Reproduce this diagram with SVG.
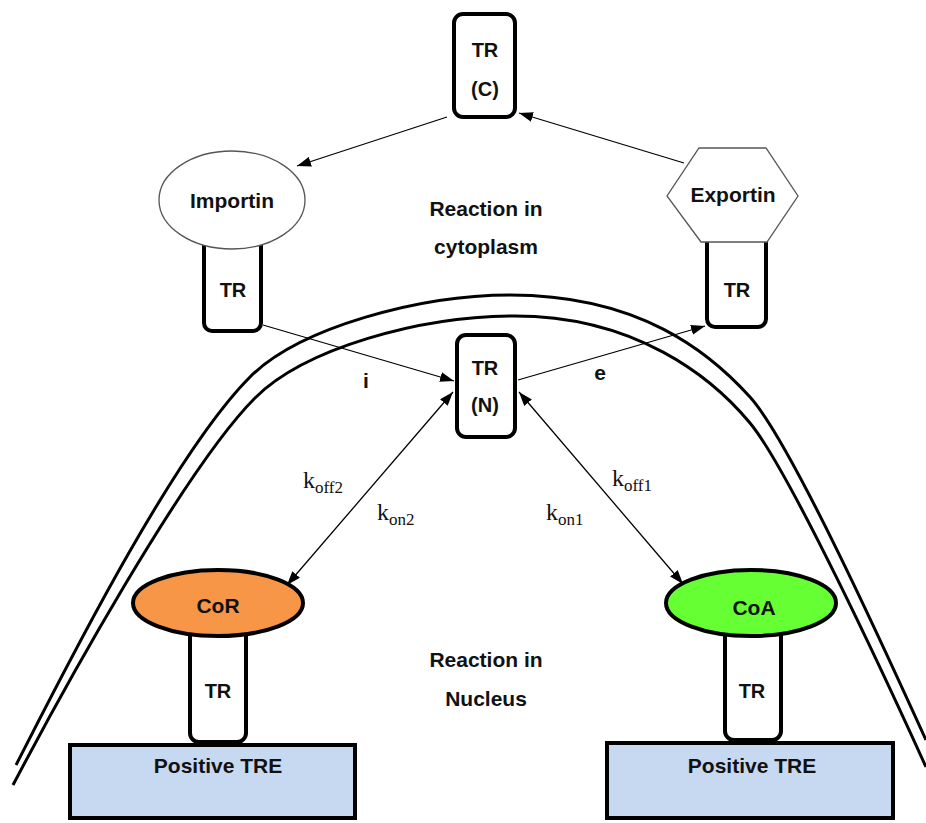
<svg xmlns="http://www.w3.org/2000/svg" width="926" height="823" viewBox="0 0 926 823">
<defs>
<marker id="ah" viewBox="0 0 14 10" refX="14" refY="5" markerWidth="14" markerHeight="10" markerUnits="userSpaceOnUse" orient="auto-start-reverse">
<path d="M0,0 L14,5 L0,10 Z" fill="#000"/>
</marker>
<style>
.box{fill:#fff;stroke:#000;stroke-width:4}
.thin{fill:#fff;stroke:#555;stroke-width:1.3}
.mem{fill:none;stroke:#000;stroke-width:3}
.t{font-family:"Liberation Sans",Arial,sans-serif;font-weight:bold;font-size:21px;fill:#111;text-anchor:middle}
.tr{font-size:20px}
.k{font-family:"Liberation Serif","Times New Roman",serif;font-size:24px;fill:#111}
.ks{font-size:17px}
.c{fill:none;stroke:#000;stroke-width:1.3}
</style>
</defs>
<rect width="926" height="823" fill="#fff"/>

<g id="membrane">
<path class="mem" d="M16,765 C61.6,676 172.2,454.8 250,377 C299.5,327.5 420,295 510,295 C640,295 709.8,352.6 750,397 C790.2,441.4 884.6,649 926,740"/>
<path class="mem" d="M13,785 C59.6,696.5 184.3,468.7 255,398 C304.5,348.5 420,316 515,316 C635,316 711.6,376.8 750,423 C788.4,469.2 884.6,676 926,767"/>
</g>

<g id="labels">
<text class="t" x="486" y="216">Reaction in</text>
<text class="t" x="486" y="254">cytoplasm</text>
<text class="t" x="486" y="667">Reaction in</text>
<text class="t" x="486" y="706">Nucleus</text>
</g>

<g id="trc">
<rect class="box" x="454" y="14" width="61" height="103" rx="9"/>
<text class="t tr" x="485" y="57">TR</text>
<text class="t tr" x="485" y="96">(C)</text>
</g>

<g id="importin">
<rect class="box" x="204" y="236" width="57" height="95" rx="8"/>
<ellipse class="thin" cx="232" cy="200" rx="73" ry="49"/>
<text class="t" x="232" y="208">Importin</text>
<text class="t tr" x="233" y="297">TR</text>
</g>

<g id="exportin">
<rect class="box" x="707" y="232" width="59" height="95" rx="8"/>
<polygon class="thin" points="699,148 766,148 798,196 767,242 701,242 667,196"/>
<text class="t" x="733" y="202">Exportin</text>
<text class="t tr" x="737" y="297">TR</text>
</g>

<g id="trn">
<rect class="box" x="457" y="335" width="58" height="102" rx="9"/>
<text class="t tr" x="485" y="375">TR</text>
<text class="t tr" x="485" y="412">(N)</text>
</g>

<g id="cor">
<rect class="box" x="190" y="625" width="56" height="117" rx="9"/>
<ellipse cx="218" cy="603" rx="85" ry="33" fill="#F79646" stroke="#000" stroke-width="4"/>
<text class="t" x="218" y="613">CoR</text>
<text class="t tr" x="218" y="698">TR</text>
</g>

<g id="coa">
<rect class="box" x="725" y="625" width="56" height="115" rx="9"/>
<ellipse cx="751" cy="603" rx="85" ry="33" fill="#66FF33" stroke="#000" stroke-width="4"/>
<text class="t" x="754" y="615">CoA</text>
<text class="t tr" x="752" y="698">TR</text>
</g>

<g id="tre-left">
<rect x="70" y="745" width="285" height="73" fill="#C6D9F1" stroke="#000" stroke-width="4"/>
<text class="t" x="218" y="773">Positive TRE</text>
</g>

<g id="tre-right">
<rect x="607" y="743" width="286" height="75" fill="#C6D9F1" stroke="#000" stroke-width="4"/>
<text class="t" x="752" y="773">Positive TRE</text>
</g>

<g id="connectors">
<line class="c" x1="447" y1="117" x2="297" y2="166" marker-end="url(#ah)"/>
<line class="c" x1="684" y1="163" x2="519" y2="113" marker-end="url(#ah)"/>
<line class="c" x1="263" y1="325" x2="454" y2="381" marker-end="url(#ah)"/>
<line class="c" x1="518" y1="380" x2="705" y2="326" marker-end="url(#ah)"/>
<line class="c" x1="453" y1="392" x2="287" y2="585" marker-start="url(#ah)" marker-end="url(#ah)"/>
<line class="c" x1="519" y1="392" x2="683" y2="584" marker-start="url(#ah)" marker-end="url(#ah)"/>
<text class="t" x="366" y="388">i</text>
<text class="t" x="600" y="380">e</text>
<text class="k" x="303" y="488">k<tspan class="ks" dy="5">off2</tspan></text>
<text class="k" x="377" y="520">k<tspan class="ks" dy="5">on2</tspan></text>
<text class="k" x="546" y="520">k<tspan class="ks" dy="5">on1</tspan></text>
<text class="k" x="612" y="486">k<tspan class="ks" dy="5">off1</tspan></text>
</g>
</svg>
